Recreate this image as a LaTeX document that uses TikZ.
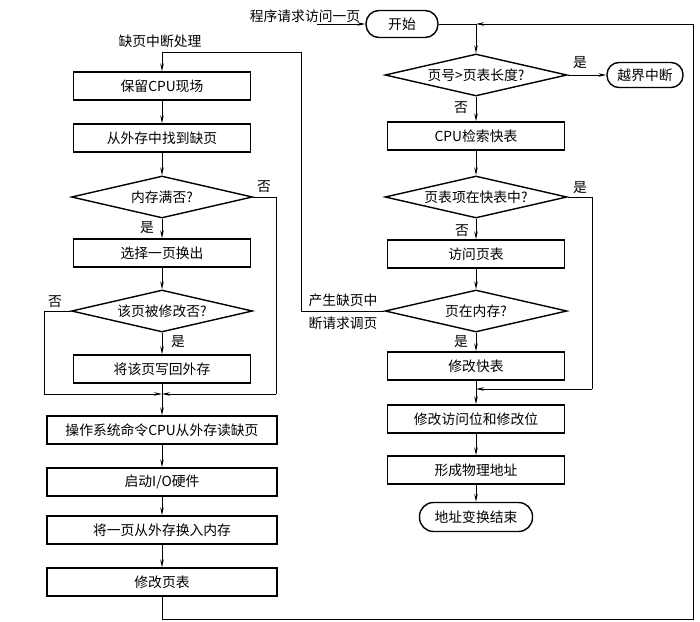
\documentclass[tikz,border=0pt]{standalone}
\usepackage{fontspec}
\setmainfont{Noto Sans CJK SC}
\usetikzlibrary{shapes.geometric,arrows.meta}
\begin{document}
\begin{tikzpicture}[x=1pt,y=-1pt,
  txt/.style={font=\fontsize{13.8}{15}\selectfont,inner sep=0pt},
  box/.style={draw,line width=1.4pt,minimum width=177pt,minimum height=28pt,inner sep=0pt,font=\fontsize{13.8}{15}\selectfont},
  wbox/.style={box,minimum width=230pt},
  dia/.style={draw,diamond,aspect=4.3,line width=1.4pt,minimum width=181pt,minimum height=42pt,inner sep=0pt,font=\fontsize{13.8}{15}\selectfont},
  term/.style={draw,rounded corners=13pt,line width=1.4pt,minimum height=27pt,inner sep=0pt,font=\fontsize{13.8}{15}\selectfont},
  ln/.style={line width=0.9pt},
  arr/.style={ln,-{Stealth[length=8pt,width=3.5pt]}}
]
\useasboundingbox (0,0) rectangle (700,621);
% right column
\node[txt] (req) at (305,16) {程序请求访问一页};
\coordinate (rq) at (317,24);
\node[term,minimum width=72pt] (start) at (402,24) {开始};
\coordinate (j0) at (476,24);
\node[dia,minimum width=182pt] (d1) at (476,75) {页号>页表长度?};
\node[term,minimum width=76pt,minimum height=25pt,rounded corners=12pt] (oob) at (645,75) {越界中断};
\node[box] (b1) at (476,136) {CPU检索快表};
\node[dia,minimum width=182pt] (d2) at (476,197) {页表项在快表中?};
\node[box] (b2) at (476,254) {访问页表};
\node[dia,minimum width=182pt] (d3) at (476,311) {页在内存?};
\node[box] (b3) at (476,366) {修改快表};
\coordinate (j1) at (476,389);
\node[box] (b4) at (476,419) {修改访问位和修改位};
\node[box] (b5) at (476,470) {形成物理地址};
\node[term,minimum width=113pt,minimum height=29pt,rounded corners=14pt] (fin) at (476,517) {地址变换结束};
\coordinate (r1) at (592,197);
\coordinate (r2) at (592,389);
% left column
\node[txt] (pf) at (160,41) {缺页中断处理};
\node[box] (L1) at (162,86) {保留CPU现场};
\node[box] (L2) at (162,138) {从外存中找到缺页};
\node[dia] (Ld1) at (162,197) {内存满否?};
\node[box] (L3) at (162,253) {选择一页换出};
\node[dia] (Ld2) at (162,311) {该页被修改否?};
\node[box] (L4) at (162,369) {将该页写回外存};
\coordinate (j2) at (162,394);
\node[wbox] (L5) at (162,430) {操作系统命令CPU从外存读缺页};
\node[wbox] (L6) at (162,482) {启动I/O硬件};
\node[wbox] (L7) at (162,530) {将一页从外存换入内存};
\node[wbox] (L8) at (162,582) {修改页表};
\coordinate (m1) at (301,311);
\coordinate (m2) at (301,52);
\coordinate (m3) at (162,52);
\coordinate (a1) at (276,197);
\coordinate (a2) at (276,394);
\coordinate (c1) at (44,311);
\coordinate (c2) at (44,394);
\coordinate (e1) at (162,619);
\coordinate (e2) at (693,619);
\coordinate (e3) at (693,24);
% labels
\node[txt] (y1) at (580,63) {是};
\node[txt] (n1) at (461,108) {否};
\node[txt] (y2) at (580,188) {是};
\node[txt] (n2) at (462,231) {否};
\node[txt] (y3) at (461,342) {是};
\node[txt] (q1) at (343,300) {产生缺页中};
\node[txt] (q2) at (343,323) {断请求调页};
\node[txt] (n3) at (264,187) {否};
\node[txt] (y4) at (147,228) {是};
\node[txt] (n4) at (55,302) {否};
\node[txt] (y5) at (178,342) {是};
% connectors right
\draw[arr] (rq) -- (start.west);
\draw[ln] (start.east) -- (j0);
\draw[arr] (j0) -- (d1.north);
\draw[arr] (d1.east) -- (oob.west);
\draw[arr] (d1.south) -- (b1.north);
\draw[arr] (b1.south) -- (d2.north);
\draw[ln] (d2.east) -- (r1) -- (r2);
\draw[arr] (r2) -- (j1);
\draw[arr] (d2.south) -- (b2.north);
\draw[arr] (b2.south) -- (d3.north);
\draw[arr] (d3.south) -- (b3.north);
\draw[ln] (b3.south) -- (j1);
\draw[arr] (j1) -- (b4.north);
\draw[arr] (b4.south) -- (b5.north);
\draw[arr] (b5.south) -- (fin.north);
\draw[ln] (d3.west) -- (m1) -- (m2) -- (m3);
\draw[arr] (m3) -- (L1.north);
% connectors left
\draw[arr] (L1.south) -- (L2.north);
\draw[arr] (L2.south) -- (Ld1.north);
\draw[ln] (Ld1.east) -- (a1) -- (a2);
\draw[arr] (a2) -- (j2);
\draw[arr] (Ld1.south) -- (L3.north);
\draw[arr] (L3.south) -- (Ld2.north);
\draw[ln] (Ld2.west) -- (c1) -- (c2);
\draw[arr] (c2) -- (j2);
\draw[arr] (Ld2.south) -- (L4.north);
\draw[ln] (L4.south) -- (j2);
\draw[arr] (j2) -- (L5.north);
\draw[arr] (L5.south) -- (L6.north);
\draw[arr] (L6.south) -- (L7.north);
\draw[arr] (L7.south) -- (L8.north);
\draw[ln] (L8.south) -- (e1) -- (e2) -- (e3);
\draw[arr] (e3) -- (j0);
\end{tikzpicture}
\end{document}
